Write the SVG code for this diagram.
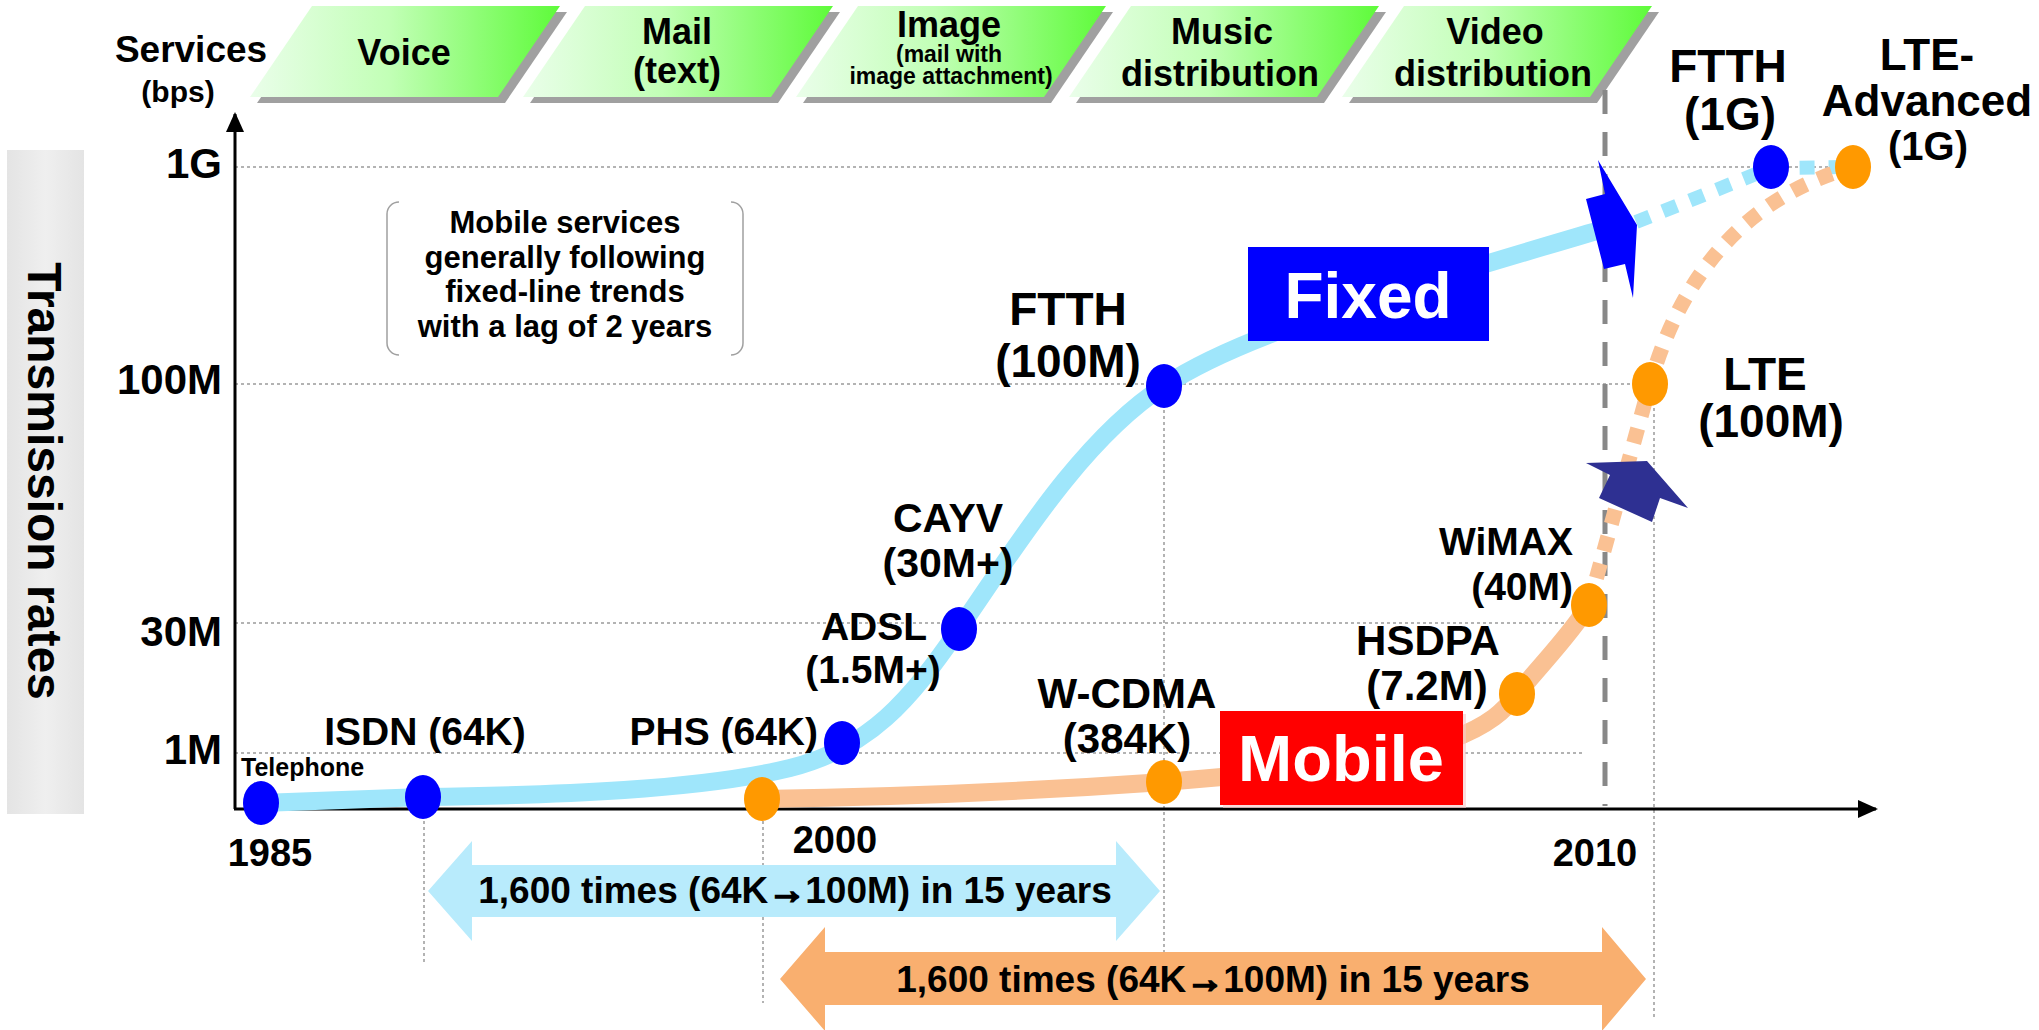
<svg xmlns="http://www.w3.org/2000/svg" xmlns:xlink="http://www.w3.org/1999/xlink" width="2039" height="1030" viewBox="0 0 2039 1030">
<style>
text{font-family:"Liberation Sans",Arial,sans-serif;font-weight:bold;fill:#000}
.mid{text-anchor:middle}
.end{text-anchor:end}
.hdr{font-size:36px}
.lbl{font-size:39px}
.big{font-size:46px}
.arr{stroke:#000;stroke-width:2.5}
.grid{stroke:#9a9a9a;stroke-width:1.5;stroke-dasharray:3 3;fill:none}
.axis{stroke:#000;stroke-width:3;fill:none}
.blueNode{fill:#0000ff}
.orNode{fill:#ff9900}
.fixedLine{stroke:#9fe6fb;stroke-width:18;fill:none;stroke-linecap:round}
.mobLine{stroke:#fac193;stroke-width:18;fill:none;stroke-linecap:round}
.fixedDot{stroke:#9fe6fb;stroke-width:14;fill:none;stroke-dasharray:15 14}
.mobDot{stroke:#fac193;stroke-width:15;fill:none;stroke-dasharray:15 13}
.shadow{fill:#a0a0a0}
</style>
<defs>
<linearGradient id="green" x1="0" y1="0.5" x2="1" y2="0.5">
<stop offset="0" stop-color="#eafeea"/>
<stop offset="0.45" stop-color="#c2ffb6"/>
<stop offset="1" stop-color="#5efb3a"/>
</linearGradient>
<linearGradient id="grayband" x1="0" y1="0" x2="1" y2="0">
<stop offset="0" stop-color="#e4e4e4"/>
<stop offset="0.5" stop-color="#efefef"/>
<stop offset="1" stop-color="#e4e4e4"/>
</linearGradient>
<polygon id="para" points="62,6 310,6 248,97 0,97"/>
<marker id="ah" markerUnits="userSpaceOnUse" markerWidth="20" markerHeight="18" refX="18" refY="9" orient="auto">
<path d="M0,0 L20,9 L0,18 Z" fill="#000"/>
</marker>
</defs>
<rect x="0" y="0" width="2039" height="1030" fill="#fff"/>

<g id="y-title">
<rect x="7" y="150" width="77" height="664" fill="url(#grayband)"/>
<text transform="translate(28,481) rotate(90)" class="mid" style="font-size:48px">Transmission rates</text>
</g>

<g id="services-title">
<text x="191" y="62" class="mid" style="font-size:37px">Services</text>
<text x="178" y="102" class="mid" style="font-size:30px">(bps)</text>
</g>

<g id="svc-voice">
<use xlink:href="#para" x="257" y="6" class="shadow"/>
<use xlink:href="#para" x="250" y="0" fill="url(#green)"/>
<text x="404" y="65" class="mid hdr">Voice</text>
</g>
<g id="svc-mail">
<use xlink:href="#para" x="530" y="6" class="shadow"/>
<use xlink:href="#para" x="523" y="0" fill="url(#green)"/>
<text x="677" y="44" class="mid hdr">Mail</text>
<text x="677" y="83" class="mid hdr">(text)</text>
</g>
<g id="svc-image">
<use xlink:href="#para" x="803" y="6" class="shadow"/>
<use xlink:href="#para" x="796" y="0" fill="url(#green)"/>
<text x="949" y="37" class="mid hdr">Image</text>
<text x="949" y="62" class="mid" style="font-size:23px">(mail with</text>
<text x="951" y="84" class="mid" style="font-size:23px">image attachment)</text>
</g>
<g id="svc-music">
<use xlink:href="#para" x="1076" y="6" class="shadow"/>
<use xlink:href="#para" x="1069" y="0" fill="url(#green)"/>
<text x="1222" y="44" class="mid hdr">Music</text>
<text x="1220" y="86" class="mid hdr">distribution</text>
</g>
<g id="svc-video">
<use xlink:href="#para" x="1349" y="6" class="shadow"/>
<use xlink:href="#para" x="1342" y="0" fill="url(#green)"/>
<text x="1495" y="44" class="mid hdr">Video</text>
<text x="1493" y="86" class="mid hdr">distribution</text>
</g>

<g id="grid">
<line class="grid" x1="235" y1="167" x2="1835" y2="167"/>
<line class="grid" x1="235" y1="384" x2="1640" y2="384"/>
<line class="grid" x1="235" y1="623" x2="1590" y2="623"/>
<line class="grid" x1="235" y1="753" x2="1585" y2="753"/>
<line class="grid" x1="424" y1="815" x2="424" y2="962"/>
<line class="grid" x1="763" y1="815" x2="763" y2="1003"/>
<line class="grid" x1="1164" y1="386" x2="1164" y2="967"/>
<line class="grid" x1="1654" y1="384" x2="1654" y2="1018"/>
</g>

<g id="year-2010-marker">
<line x1="1605" y1="90" x2="1605" y2="806" stroke="#888" stroke-width="5" stroke-dasharray="24 18"/>
</g>

<g id="axes">
<line class="axis" x1="235" y1="809" x2="235" y2="114" marker-end="url(#ah)"/>
<line class="axis" x1="234" y1="809" x2="1876" y2="809" marker-end="url(#ah)"/>
<text x="222" y="178" class="end" style="font-size:42px">1G</text>
<text x="222" y="394" class="end" style="font-size:42px">100M</text>
<text x="222" y="646" class="end" style="font-size:42px">30M</text>
<text x="222" y="764" class="end" style="font-size:42px">1M</text>
<text x="270" y="866" class="mid" style="font-size:38px">1985</text>
<text x="835" y="853" class="mid" style="font-size:38px">2000</text>
<text x="1595" y="866" class="mid" style="font-size:38px">2010</text>
</g>

<g id="note">
<path d="M399,202 A12,12 0 0 0 387,214 L387,343 A12,12 0 0 0 399,355 M731,202 A12,12 0 0 1 743,214 L743,343 A12,12 0 0 1 731,355" fill="none" stroke="#a0a0a0" stroke-width="1.5"/>
<text x="565" y="233" class="mid" style="font-size:31px">Mobile services</text>
<text x="565" y="268" class="mid" style="font-size:31px">generally following</text>
<text x="565" y="302" class="mid" style="font-size:31px">fixed-line trends</text>
<text x="565" y="337" class="mid" style="font-size:31px">with a lag of 2 years</text>
</g>

<g id="connectors">
<path class="fixedLine" d="M261,803 L423,797 C560,795 700,790 790,768 C870,748 910,700 959,629 C1010,556 1080,440 1164,386 C1240,335 1380,295 1600,230"/>
<path class="mobLine" d="M762,799 C900,797 1050,790 1164,782 C1260,775 1380,760 1450,740 C1490,725 1505,710 1517,694 C1545,660 1570,635 1589,605"/>
<path class="fixedDot" d="M1636,222 L1771,168 L1853,167"/>
<path class="mobDot" d="M1589,605 L1650,384 Q1700,210 1853,167"/>
</g>

<g id="fixed-box">
<rect x="1248" y="247" width="241" height="94" fill="#0000ff"/>
<text x="1368" y="318" class="mid" style="font-size:64px;fill:#fff">Fixed</text>
</g>
<g id="mobile-box">
<rect x="1223" y="714" width="243" height="94" fill="#f7c8c8" opacity="0.6"/>
<rect x="1220" y="711" width="243" height="94" fill="#ff0000"/>
<text x="1341" y="781" class="mid" style="font-size:65px;fill:#fff">Mobile</text>
</g>

<g id="fixed-arrow">
<polygon points="1586,199 1605,194 1598,160 1637,225 1633,298 1625,264 1604,269" fill="#0000ff"/>
</g>
<g id="mobile-arrow">
<polygon points="1610,475 1586,463 1647,461 1688,508 1660,498 1652,522 1599,498" fill="#2e3092"/>
</g>

<g id="node-telephone"><ellipse class="blueNode" cx="261" cy="803" rx="18" ry="22"/><text x="241" y="776" style="font-size:25px">Telephone</text></g>
<g id="node-isdn"><ellipse class="blueNode" cx="423" cy="797" rx="18" ry="22"/><text x="425" y="745" class="mid lbl">ISDN (64K)</text></g>
<g id="node-phs-fixed"><ellipse class="blueNode" cx="842" cy="743" rx="18" ry="22"/><text x="818" y="745" class="end lbl">PHS (64K)</text></g>
<g id="node-adsl"><ellipse class="blueNode" cx="959" cy="629" rx="18" ry="22"/><text x="874" y="640" class="mid lbl">ADSL</text><text x="873" y="683" class="mid lbl">(1.5M+)</text></g>
<g id="node-cayv"><text x="948" y="532" class="mid" style="font-size:41px">CAYV</text><text x="948" y="577" class="mid" style="font-size:41px">(30M+)</text></g>
<g id="node-ftth100"><ellipse class="blueNode" cx="1164" cy="386" rx="18" ry="22"/><text x="1068" y="325" class="mid big">FTTH</text><text x="1068" y="377" class="mid big">(100M)</text></g>
<g id="node-ftth1g"><ellipse class="blueNode" cx="1771" cy="167" rx="18" ry="22"/><text x="1728" y="82" class="mid big">FTTH</text><text x="1730" y="130" class="mid big">(1G)</text></g>

<g id="node-phs-mobile"><ellipse class="orNode" cx="762" cy="799" rx="18" ry="22"/></g>
<g id="node-wcdma"><ellipse class="orNode" cx="1164" cy="782" rx="18" ry="22"/><text x="1127" y="708" class="mid" style="font-size:42px">W-CDMA</text><text x="1127" y="753" class="mid" style="font-size:42px">(384K)</text></g>
<g id="node-hsdpa"><ellipse class="orNode" cx="1517" cy="694" rx="18" ry="22"/><text x="1428" y="655" class="mid" style="font-size:42px">HSDPA</text><text x="1427" y="700" class="mid" style="font-size:42px">(7.2M)</text></g>
<g id="node-wimax"><ellipse class="orNode" cx="1589" cy="605" rx="18" ry="22"/><text x="1573" y="555" class="end lbl">WiMAX</text><text x="1573" y="600" class="end lbl">(40M)</text></g>
<g id="node-lte"><ellipse class="orNode" cx="1650" cy="384" rx="18" ry="22"/><text x="1765" y="390" class="mid big">LTE</text><text x="1771" y="437" class="mid big">(100M)</text></g>
<g id="node-lte-adv"><ellipse class="orNode" cx="1853" cy="167" rx="18" ry="22"/><text x="1927" y="70" class="mid" style="font-size:44px">LTE-</text><text x="1927" y="116" class="mid" style="font-size:44px">Advanced</text><text x="1928" y="160" class="mid" style="font-size:40px">(1G)</text></g>

<g id="span-fixed">
<polygon points="428,891 472,841 472,865 1116,865 1116,841 1160,891 1116,941 1116,917 472,917 472,941" fill="#b8ebfc"/>
<text x="795" y="903" class="mid" style="font-size:37px">1,600 times (64K<tspan class="arr">→</tspan>100M) in 15 years</text>
</g>
<g id="span-mobile">
<polygon points="780,979 825,927 825,952 1602,952 1602,927 1646,979 1602,1031 1602,1005 825,1005 825,1031" fill="#f9af6f"/>
<text x="1213" y="992" class="mid" style="font-size:37px">1,600 times (64K<tspan class="arr">→</tspan>100M) in 15 years</text>
</g>
</svg>
